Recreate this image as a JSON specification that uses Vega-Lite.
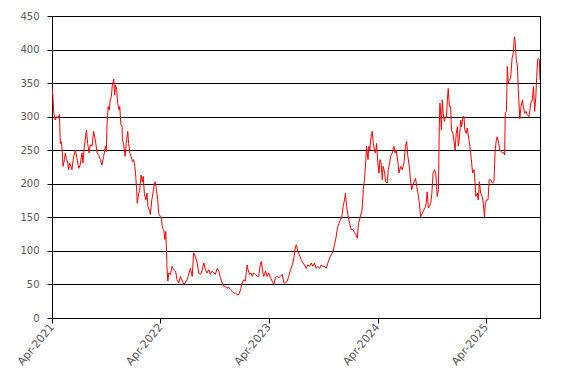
{
  "$schema": "https://vega.github.io/schema/vega-lite/v6.json",
  "width": 488,
  "height": 302,
  "autosize": {"type": "none"},
  "padding": {"left": 52, "top": 16, "right": 27, "bottom": 65},
  "background": "white",
  "config": {
    "view": {"stroke": "black", "strokeWidth": 1},
    "axis": {"labelFont": "DejaVu Sans", "labelFontSize": 10, "labelColor": "#595959", "domainColor": "black", "tickColor": "black", "gridColor": "black", "gridOpacity": 1}
  },
  "data": {"values": [
{"date":"2021-04-01","v":342},{"date":"2021-04-04","v":330},{"date":"2021-04-07","v":305},{"date":"2021-04-12","v":295},{"date":"2021-04-16","v":300},{"date":"2021-04-20","v":298},{"date":"2021-04-26","v":303},{"date":"2021-04-29","v":260},{"date":"2021-05-02","v":263},{"date":"2021-05-06","v":246},{"date":"2021-05-08","v":226},{"date":"2021-05-13","v":236},{"date":"2021-05-16","v":246},{"date":"2021-05-19","v":238},{"date":"2021-05-24","v":231},{"date":"2021-05-27","v":221},{"date":"2021-05-30","v":231},{"date":"2021-06-04","v":226},{"date":"2021-06-07","v":221},{"date":"2021-06-13","v":241},{"date":"2021-06-19","v":250},{"date":"2021-06-24","v":238},{"date":"2021-06-30","v":223},{"date":"2021-07-05","v":228},{"date":"2021-07-11","v":246},{"date":"2021-07-14","v":231},{"date":"2021-07-19","v":256},{"date":"2021-07-26","v":280},{"date":"2021-07-30","v":260},{"date":"2021-08-04","v":246},{"date":"2021-08-08","v":258},{"date":"2021-08-14","v":256},{"date":"2021-08-19","v":278},{"date":"2021-08-25","v":265},{"date":"2021-08-31","v":246},{"date":"2021-09-05","v":243},{"date":"2021-09-11","v":236},{"date":"2021-09-16","v":228},{"date":"2021-09-22","v":241},{"date":"2021-09-28","v":256},{"date":"2021-10-01","v":248},{"date":"2021-10-03","v":285},{"date":"2021-10-07","v":315},{"date":"2021-10-11","v":310},{"date":"2021-10-14","v":325},{"date":"2021-10-18","v":330},{"date":"2021-10-21","v":347},{"date":"2021-10-26","v":356},{"date":"2021-10-29","v":332},{"date":"2021-11-01","v":347},{"date":"2021-11-05","v":340},{"date":"2021-11-08","v":320},{"date":"2021-11-13","v":310},{"date":"2021-11-15","v":315},{"date":"2021-11-19","v":288},{"date":"2021-11-23","v":285},{"date":"2021-11-24","v":265},{"date":"2021-11-28","v":260},{"date":"2021-12-03","v":241},{"date":"2021-12-07","v":260},{"date":"2021-12-12","v":278},{"date":"2021-12-15","v":260},{"date":"2021-12-19","v":246},{"date":"2021-12-23","v":241},{"date":"2021-12-28","v":233},
{"date":"2022-01-01","v":236},{"date":"2022-01-05","v":226},{"date":"2022-01-08","v":211},{"date":"2022-01-11","v":191},{"date":"2022-01-13","v":171},{"date":"2022-01-18","v":186},{"date":"2022-01-21","v":189},{"date":"2022-01-26","v":213},{"date":"2022-01-30","v":203},{"date":"2022-02-02","v":211},{"date":"2022-02-06","v":186},{"date":"2022-02-11","v":176},{"date":"2022-02-15","v":186},{"date":"2022-02-18","v":166},{"date":"2022-02-23","v":161},{"date":"2022-02-26","v":154},{"date":"2022-03-03","v":176},{"date":"2022-03-07","v":186},{"date":"2022-03-12","v":201},{"date":"2022-03-15","v":203},{"date":"2022-03-19","v":189},{"date":"2022-03-23","v":176},{"date":"2022-03-26","v":156},{"date":"2022-04-01","v":151},{"date":"2022-04-04","v":149},{"date":"2022-04-08","v":134},{"date":"2022-04-12","v":132},{"date":"2022-04-16","v":117},{"date":"2022-04-19","v":129},{"date":"2022-04-21","v":107},{"date":"2022-04-23","v":77},{"date":"2022-04-26","v":55},{"date":"2022-04-29","v":67},{"date":"2022-05-05","v":65},{"date":"2022-05-10","v":77},{"date":"2022-05-16","v":72},{"date":"2022-05-22","v":70},{"date":"2022-05-27","v":57},{"date":"2022-06-02","v":52},{"date":"2022-06-07","v":62},{"date":"2022-06-19","v":50},{"date":"2022-06-30","v":57},{"date":"2022-07-11","v":74},{"date":"2022-07-17","v":62},{"date":"2022-07-22","v":97},{"date":"2022-07-28","v":91},{"date":"2022-08-03","v":82},{"date":"2022-08-08","v":67},{"date":"2022-08-14","v":65},{"date":"2022-08-19","v":70},{"date":"2022-08-25","v":82},{"date":"2022-08-31","v":72},{"date":"2022-09-05","v":67},{"date":"2022-09-11","v":72},{"date":"2022-09-16","v":65},{"date":"2022-09-22","v":70},{"date":"2022-09-28","v":67},{"date":"2022-10-03","v":65},{"date":"2022-10-09","v":74},{"date":"2022-10-15","v":70},{"date":"2022-10-20","v":60},{"date":"2022-10-26","v":52},{"date":"2022-10-31","v":47},{"date":"2022-11-06","v":47},{"date":"2022-11-12","v":45},{"date":"2022-11-17","v":46},{"date":"2022-11-23","v":42},{"date":"2022-11-28","v":40},{"date":"2022-12-04","v":37},{"date":"2022-12-10","v":37},{"date":"2022-12-15","v":35},{"date":"2022-12-21","v":35},{"date":"2022-12-27","v":42},
{"date":"2023-01-01","v":52},{"date":"2023-01-07","v":57},{"date":"2023-01-12","v":55},{"date":"2023-01-18","v":79},{"date":"2023-01-21","v":72},{"date":"2023-01-26","v":65},{"date":"2023-01-31","v":67},{"date":"2023-02-04","v":62},{"date":"2023-02-09","v":67},{"date":"2023-02-15","v":65},{"date":"2023-02-21","v":62},{"date":"2023-02-26","v":62},{"date":"2023-03-04","v":82},{"date":"2023-03-07","v":84},{"date":"2023-03-12","v":67},{"date":"2023-03-15","v":62},{"date":"2023-03-21","v":70},{"date":"2023-03-26","v":62},{"date":"2023-04-01","v":67},{"date":"2023-04-07","v":60},{"date":"2023-04-12","v":55},{"date":"2023-04-18","v":50},{"date":"2023-04-23","v":60},{"date":"2023-04-29","v":62},{"date":"2023-05-05","v":60},{"date":"2023-05-10","v":62},{"date":"2023-05-16","v":65},{"date":"2023-05-22","v":52},{"date":"2023-05-27","v":52},{"date":"2023-06-02","v":55},{"date":"2023-06-07","v":62},{"date":"2023-06-13","v":72},{"date":"2023-06-19","v":79},{"date":"2023-06-24","v":89},{"date":"2023-06-30","v":107},{"date":"2023-07-03","v":109},{"date":"2023-07-08","v":99},{"date":"2023-07-13","v":94},{"date":"2023-07-19","v":87},{"date":"2023-07-25","v":82},{"date":"2023-07-30","v":79},{"date":"2023-08-05","v":74},{"date":"2023-08-10","v":79},{"date":"2023-08-16","v":77},{"date":"2023-08-22","v":82},{"date":"2023-08-27","v":77},{"date":"2023-09-02","v":82},{"date":"2023-09-07","v":74},{"date":"2023-09-13","v":77},{"date":"2023-09-19","v":74},{"date":"2023-09-24","v":79},{"date":"2023-09-30","v":77},{"date":"2023-10-06","v":77},{"date":"2023-10-11","v":74},{"date":"2023-10-17","v":82},{"date":"2023-10-22","v":89},{"date":"2023-10-28","v":94},{"date":"2023-11-03","v":99},{"date":"2023-11-08","v":109},{"date":"2023-11-13","v":119},{"date":"2023-11-17","v":132},{"date":"2023-11-23","v":141},{"date":"2023-11-28","v":146},{"date":"2023-12-03","v":151},{"date":"2023-12-07","v":166},{"date":"2023-12-12","v":176},{"date":"2023-12-15","v":186},{"date":"2023-12-19","v":166},{"date":"2023-12-23","v":154},{"date":"2023-12-29","v":141},
{"date":"2024-01-03","v":132},{"date":"2024-01-09","v":132},{"date":"2024-01-15","v":127},{"date":"2024-01-20","v":124},{"date":"2024-01-24","v":119},{"date":"2024-01-28","v":141},{"date":"2024-02-02","v":149},{"date":"2024-02-09","v":161},{"date":"2024-02-13","v":191},{"date":"2024-02-17","v":206},{"date":"2024-02-21","v":231},{"date":"2024-02-24","v":256},{"date":"2024-02-29","v":236},{"date":"2024-03-03","v":256},{"date":"2024-03-06","v":250},{"date":"2024-03-09","v":265},{"date":"2024-03-12","v":275},{"date":"2024-03-14","v":278},{"date":"2024-03-18","v":260},{"date":"2024-03-22","v":250},{"date":"2024-03-25","v":246},{"date":"2024-03-29","v":260},{"date":"2024-04-02","v":231},{"date":"2024-04-06","v":216},{"date":"2024-04-09","v":236},{"date":"2024-04-13","v":231},{"date":"2024-04-17","v":206},{"date":"2024-04-20","v":226},{"date":"2024-04-25","v":216},{"date":"2024-04-28","v":203},{"date":"2024-05-04","v":201},{"date":"2024-05-07","v":221},{"date":"2024-05-12","v":231},{"date":"2024-05-15","v":241},{"date":"2024-05-21","v":246},{"date":"2024-05-26","v":256},{"date":"2024-05-30","v":246},{"date":"2024-06-03","v":250},{"date":"2024-06-09","v":231},{"date":"2024-06-12","v":216},{"date":"2024-06-18","v":226},{"date":"2024-06-23","v":221},{"date":"2024-06-29","v":231},{"date":"2024-07-04","v":256},{"date":"2024-07-08","v":263},{"date":"2024-07-12","v":241},{"date":"2024-07-17","v":226},{"date":"2024-07-21","v":206},{"date":"2024-07-25","v":191},{"date":"2024-07-28","v":196},{"date":"2024-08-02","v":203},{"date":"2024-08-07","v":208},{"date":"2024-08-11","v":196},{"date":"2024-08-15","v":186},{"date":"2024-08-20","v":171},{"date":"2024-08-24","v":151},{"date":"2024-08-30","v":156},{"date":"2024-09-04","v":161},{"date":"2024-09-10","v":166},{"date":"2024-09-13","v":176},{"date":"2024-09-15","v":188},{"date":"2024-09-19","v":164},{"date":"2024-09-23","v":166},{"date":"2024-09-27","v":171},{"date":"2024-10-01","v":186},{"date":"2024-10-05","v":216},{"date":"2024-10-10","v":221},{"date":"2024-10-14","v":216},{"date":"2024-10-17","v":196},{"date":"2024-10-19","v":181},{"date":"2024-10-23","v":191},{"date":"2024-10-26","v":285},{"date":"2024-10-28","v":320},{"date":"2024-10-30","v":310},{"date":"2024-11-02","v":280},{"date":"2024-11-05","v":325},{"date":"2024-11-08","v":305},{"date":"2024-11-12","v":293},{"date":"2024-11-15","v":300},{"date":"2024-11-19","v":298},{"date":"2024-11-22","v":325},{"date":"2024-11-25","v":342},{"date":"2024-11-29","v":315},{"date":"2024-12-03","v":315},{"date":"2024-12-06","v":280},{"date":"2024-12-11","v":275},{"date":"2024-12-14","v":265},{"date":"2024-12-18","v":250},{"date":"2024-12-22","v":275},{"date":"2024-12-26","v":285},{"date":"2024-12-29","v":256},
{"date":"2025-01-02","v":270},{"date":"2025-01-06","v":295},{"date":"2025-01-09","v":285},{"date":"2025-01-14","v":300},{"date":"2025-01-17","v":300},{"date":"2025-01-20","v":280},{"date":"2025-01-25","v":275},{"date":"2025-01-28","v":283},{"date":"2025-02-02","v":268},{"date":"2025-02-06","v":256},{"date":"2025-02-11","v":236},{"date":"2025-02-15","v":216},{"date":"2025-02-20","v":221},{"date":"2025-02-23","v":203},{"date":"2025-02-26","v":181},{"date":"2025-03-03","v":186},{"date":"2025-03-06","v":176},{"date":"2025-03-10","v":203},{"date":"2025-03-14","v":186},{"date":"2025-03-20","v":181},{"date":"2025-03-23","v":171},{"date":"2025-03-27","v":151},{"date":"2025-03-30","v":171},{"date":"2025-04-03","v":176},{"date":"2025-04-08","v":176},{"date":"2025-04-12","v":206},{"date":"2025-04-17","v":206},{"date":"2025-04-23","v":201},{"date":"2025-04-28","v":203},{"date":"2025-05-02","v":250},{"date":"2025-05-06","v":265},{"date":"2025-05-09","v":270},{"date":"2025-05-14","v":260},{"date":"2025-05-18","v":250},{"date":"2025-05-23","v":248},{"date":"2025-05-26","v":246},{"date":"2025-06-01","v":246},{"date":"2025-06-03","v":243},{"date":"2025-06-05","v":305},{"date":"2025-06-09","v":308},{"date":"2025-06-12","v":375},{"date":"2025-06-15","v":350},{"date":"2025-06-19","v":355},{"date":"2025-06-23","v":357},{"date":"2025-06-28","v":387},{"date":"2025-07-02","v":395},{"date":"2025-07-06","v":419},{"date":"2025-07-09","v":409},{"date":"2025-07-12","v":385},{"date":"2025-07-16","v":375},{"date":"2025-07-19","v":340},{"date":"2025-07-24","v":297},{"date":"2025-07-28","v":315},{"date":"2025-08-02","v":325},{"date":"2025-08-05","v":315},{"date":"2025-08-09","v":305},{"date":"2025-08-14","v":308},{"date":"2025-08-18","v":303},{"date":"2025-08-24","v":300},{"date":"2025-08-30","v":320},{"date":"2025-09-04","v":325},{"date":"2025-09-08","v":345},{"date":"2025-09-12","v":308},{"date":"2025-09-16","v":330},{"date":"2025-09-19","v":360},{"date":"2025-09-22","v":385},{"date":"2025-09-26","v":387},{"date":"2025-09-28","v":384},{"date":"2025-09-30","v":355}
  ]},
  "mark": {"type": "line", "color": "#FF0000", "strokeWidth": 1, "clip": true},
  "encoding": {
    "x": {
      "field": "date", "type": "temporal",
      "scale": {"type": "utc", "domain": [{"year": 2021, "month": 4, "date": 1, "utc": true}, {"year": 2025, "month": 9, "date": 30, "utc": true}], "nice": false},
      "axis": {
        "title": null, "grid": false, "format": "%b-%Y", "labelAngle": -50, "labelFontSize": 11, "tickSize": 5, "labelPadding": 2,
        "values": [
          {"year": 2021, "month": 4, "date": 1, "utc": true},
          {"year": 2022, "month": 4, "date": 1, "utc": true},
          {"year": 2023, "month": 4, "date": 1, "utc": true},
          {"year": 2024, "month": 4, "date": 1, "utc": true},
          {"year": 2025, "month": 4, "date": 1, "utc": true}
        ]
      }
    },
    "y": {
      "field": "v", "type": "quantitative",
      "scale": {"domain": [0, 450], "nice": false, "zero": true},
      "axis": {"title": null, "values": [0, 50, 100, 150, 200, 250, 300, 350, 400, 450], "tickSize": 5, "labelPadding": 8, "grid": true, "gridWidth": 1}
    }
  }
}
